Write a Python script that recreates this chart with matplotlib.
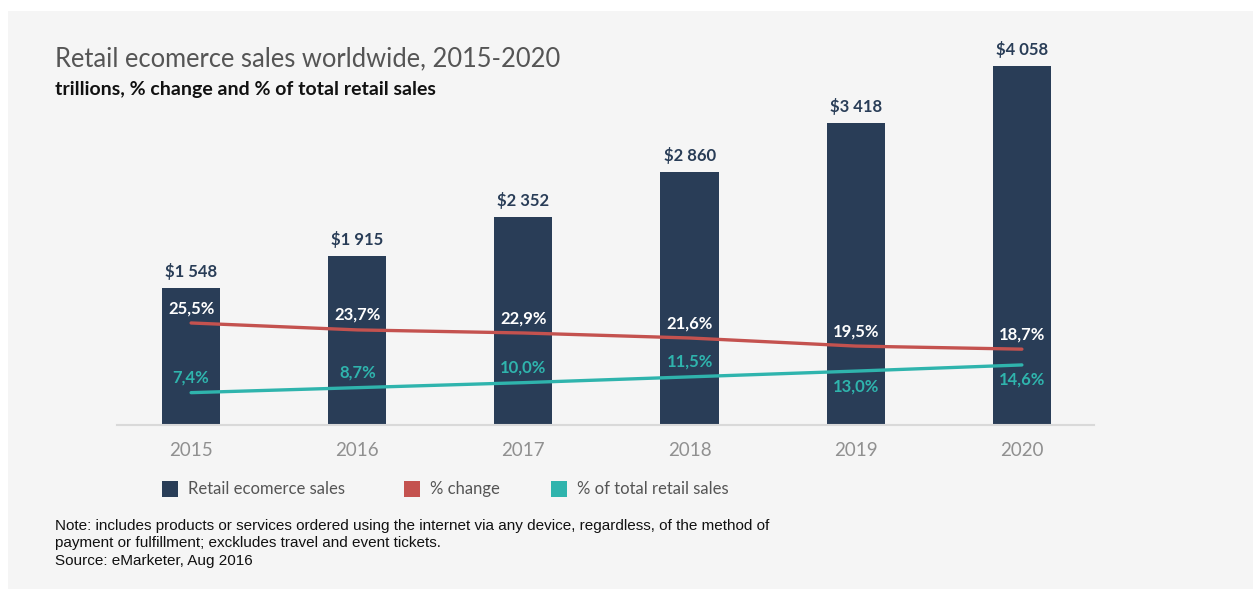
import matplotlib
matplotlib.use("Agg")
import matplotlib.pyplot as plt
from matplotlib.patches import Rectangle

# Data
years = ["2015", "2016", "2017", "2018", "2019", "2020"]
sales = [1548, 1915, 2352, 2860, 3418, 4058]
sales_labels = ["$1 548", "$1 915", "$2 352", "$2 860", "$3 418", "$4 058"]
pct_change = [25.5, 23.7, 22.9, 21.6, 19.5, 18.7]
pct_total = [7.4, 8.7, 10.0, 11.5, 13.0, 14.6]

navy = "#293d57"
red = "#c4524f"
teal = "#2fb4ad"
bg = "#f5f5f5"

plt.rcParams["font.family"] = ["Lato", "DejaVu Sans"]

W, H = 1253, 589
fig = plt.figure(figsize=(W / 100, H / 100), dpi=100)
fig.patch.set_facecolor("white")
fig.patches.append(Rectangle((8 / W, 0), 1, 1 - 11 / H, transform=fig.transFigure,
                             facecolor=bg, edgecolor="none", zorder=-10))

ax = fig.add_axes([117 / W, (H - 425) / H, (1094 - 117) / W, 375 / H])
ax.set_facecolor("none")
x = list(range(len(years)))

ax.bar(x, sales, width=0.35, color=navy, zorder=2)
ax.set_xlim(-0.446, 5.434)
ax.set_ylim(0, 4240)
for xi, v, lab in zip(x, sales, sales_labels):
    ax.annotate(lab, (xi, v), xytext=(0, 5.5), textcoords="offset points",
                ha="center", va="bottom", color=navy, fontsize=12, fontweight="bold")

for s in ["top", "left", "right"]:
    ax.spines[s].set_visible(False)
ax.spines["bottom"].set_color("#d9d9d9")
ax.spines["bottom"].set_linewidth(1.5)
ax.set_yticks([])
ax.set_xticks(x)
ax.set_xticklabels(years, color="#909090", fontsize=13.5)
ax.tick_params(axis="x", length=0, pad=12)

ax2 = ax.twinx()
ax2.set_ylim(-1.0, 96.4)
ax2.axis("off")
ax2.plot(x, pct_change, color=red, lw=2.4, solid_capstyle="round", zorder=3)
ax2.plot(x, pct_total, color=teal, lw=2.4, solid_capstyle="round", zorder=3)
for xi, v in zip(x, pct_change):
    ax2.annotate(f"{v:.1f}%".replace(".", ","), (xi, v), xytext=(0, 5), textcoords="offset points",
                 ha="center", va="bottom", color="white", fontsize=12, fontweight="bold")
for i, (xi, v) in enumerate(zip(x, pct_total)):
    below = i >= 4
    ax2.annotate(f"{v:.1f}%".replace(".", ","), (xi, v), xytext=(0, -5 if below else 5),
                 textcoords="offset points", ha="center", va="top" if below else "bottom",
                 color=teal, fontsize=12, fontweight="bold")

# Titles
fig.text(55 / W, 1 - 59 / H, "Retail ecomerce sales worldwide, 2015-2020",
         fontsize=18.4, color="#555555", va="center")
fig.text(55 / W, 1 - 89 / H, "trillions, % change and % of total retail sales",
         fontsize=14, color="#111111", fontweight="bold", va="center")

# Legend
legend_items = [("Retail ecomerce sales", navy, 162), ("% change", red, 404),
                ("% of total retail sales", teal, 551)]
for name, col, px in legend_items:
    fig.patches.append(Rectangle((px / W, 1 - 497 / H), 16 / W, 16 / H,
                                 transform=fig.transFigure, facecolor=col, edgecolor="none"))
    fig.text((px + 26) / W, 1 - 489 / H, name, fontsize=12, color="#555555", va="center")

# Note
note = ("Note: includes products or services ordered using the internet via any device, regardless, of the method of\n"
        "payment or fulfillment; exckludes travel and event tickets.\n"
        "Source: eMarketer, Aug 2016")
fig.text(55 / W, 1 - 519 / H, note, fontsize=11, color="#111111", va="top",
         family="Liberation Sans", linespacing=1.3)

fig.savefig("out.png", dpi=100, facecolor=fig.get_facecolor())
